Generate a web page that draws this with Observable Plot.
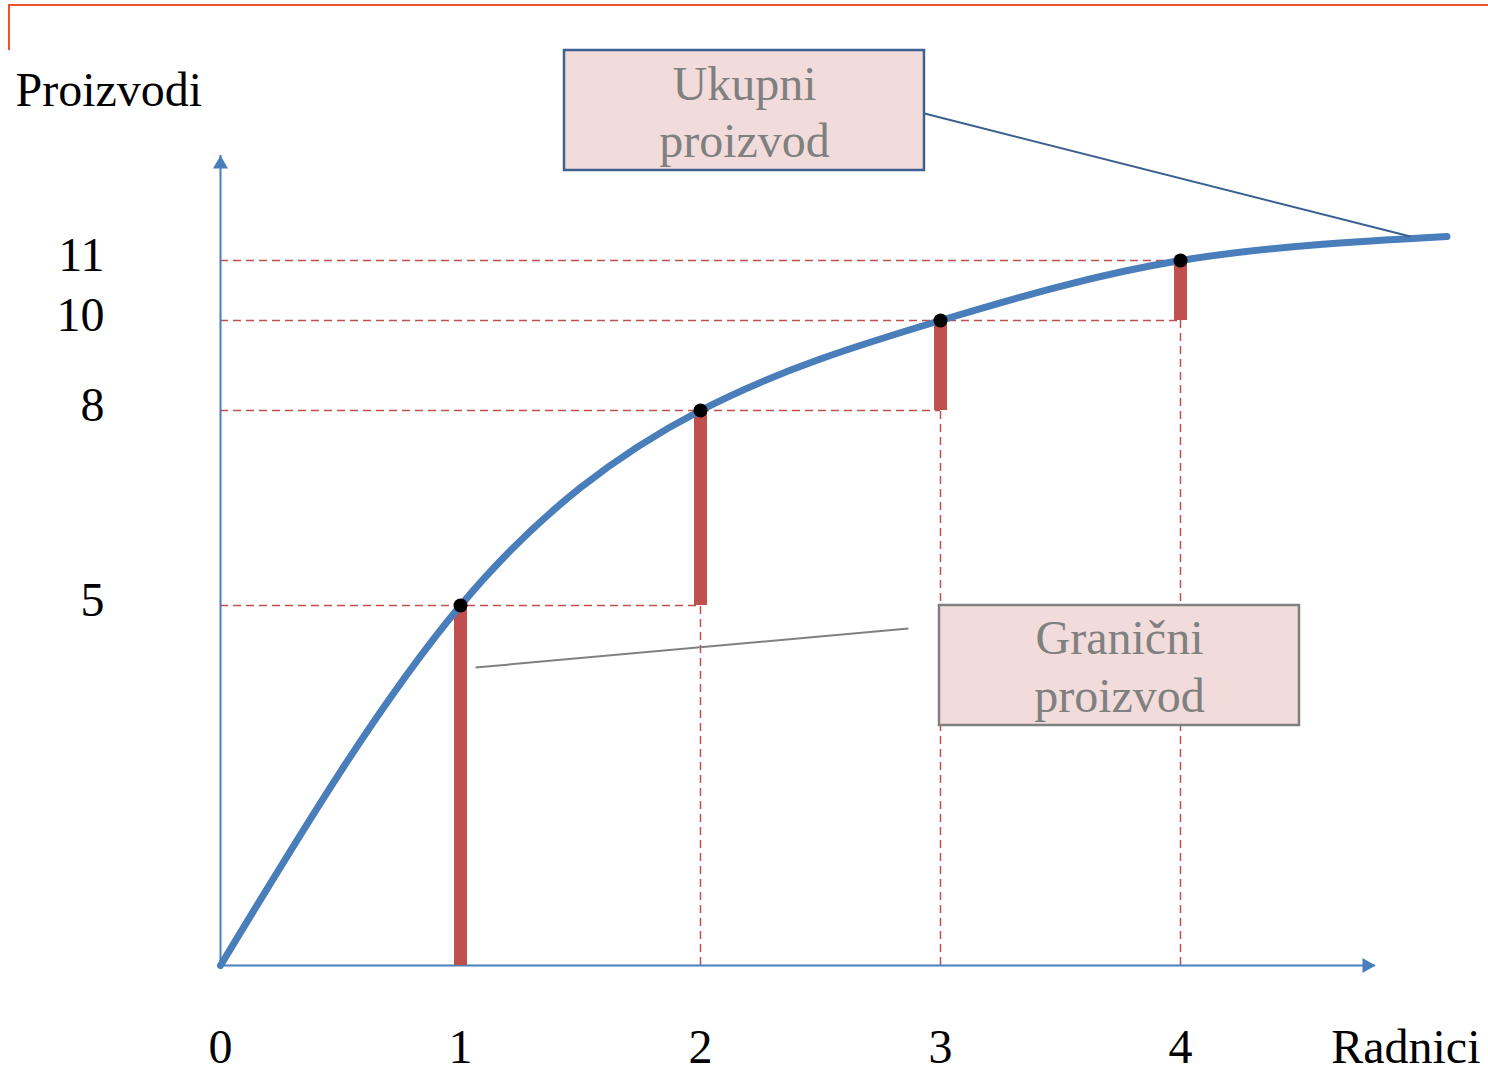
<!DOCTYPE html>
<html><head><meta charset="utf-8">
<script src="https://cdn.jsdelivr.net/npm/d3@7"></script>
<script src="https://cdn.jsdelivr.net/npm/@observablehq/plot@0.6"></script>
<style>
html,body{margin:0;padding:0;background:#fff;}
#wrap{position:relative;width:1488px;height:1073px;overflow:hidden;background:#fff;}
#wrap svg{position:absolute;left:0;top:0;}
#frame{position:absolute;left:8px;top:4px;width:1480px;height:46px;border-top:2px solid #ef5128;border-left:2px solid #ef5128;box-sizing:border-box;}
</style></head><body><div id="wrap"><div id="frame"></div></div>
<script>
// Data
const workers = [0, 1, 2, 3, 4];
const totalProduct = [0, 5, 8, 10, 11];
const curveWorkers = [0, 1, 2, 3, 4, 5.11];
const curveOutput = [0, 5, 8, 10, 11, 11.4];
const marginalProduct = [5, 3, 2, 1];
const xTickLabels = ["0", "1", "2", "3", "4"];
const yTickValues = [5, 8, 10, 11];
const xAxisTitle = "Radnici";
const yAxisTitle = "Proizvodi";
const totalLabel = "Ukupni\nproizvod";
const marginalLabel = "Granični\nproizvod";

// Scale layout (hand-drawn, piecewise y axis)
const yDomain = [0, 5, 8, 10, 11];
const yRange = [965, 605, 410, 320, 260];
const xAxisEnd = 4.8125, yAxisTop = 12.75;

const blue = "#4a7ebb", red = "#c0504d", grey = "#808080";
const font = "'Liberation Serif', 'Times New Roman', serif";

const curve = curveWorkers.map((w, i) => ({x: w, y: curveOutput[i]}));
const points = workers.slice(1).map((w, i) => ({x: w, y: totalProduct[i + 1]}));
const bars = workers.slice(1).map((w, i) => ({x: w, y1: totalProduct[i], y2: totalProduct[i] + marginalProduct[i]}));
const hDash = workers.slice(1).map((w, i) => ({y: totalProduct[i + 1], x2: Math.min(w + 1, 4)}));
const vDash = workers.slice(2).map((w, i) => ({x: w, y2: totalProduct[i + 1]}));
const xTicks = workers.map((w, i) => ({x: w, label: xTickLabels[i]}));

const boxes = [
  {x1: 1.4333, x2: 2.9333, y1: 12.5, y2: 14.5, stroke: "#3d6191", text: totalLabel, tx: 2.1833, ty: 13.51,
   lx1: 2.9333, ly1: 13.45, lx2: 4.958, ly2: 11.4, lstroke: "#3a5f8f"},
  {x1: 2.9958, x2: 4.4958, y1: 3.3333, y2: 5, stroke: "#808080", text: marginalLabel, tx: 3.746, ty: 4.18,
   lx1: 2.8667, ly1: 4.681, lx2: 1.0625, ly2: 4.139, lstroke: "#808080"}
];

const chart = Plot.plot({
  width: 1488,
  height: 1073,
  margin: 0,
  style: {background: "transparent", fontFamily: font, overflow: "visible"},
  x: {type: "linear", domain: [0, 4], range: [220, 1180], axis: null},
  y: {type: "linear", domain: yDomain, range: yRange, axis: null},
  marks: [
    Plot.ruleY(hDash, {y: "y", x1: 0, x2: "x2", stroke: red, strokeWidth: 1.5, strokeDasharray: "8,5"}),
    Plot.ruleX(vDash, {x: "x", y1: 0, y2: "y2", stroke: red, strokeWidth: 1.5, strokeDasharray: "8,5"}),
    Plot.ruleX([0], {x: 0, y1: 0, y2: yAxisTop, stroke: blue, strokeWidth: 2}),
    Plot.ruleY([0], {y: 0, x1: 0, x2: xAxisEnd, stroke: blue, strokeWidth: 2}),
    Plot.dot([{x: 0, y: yAxisTop}], {x: "x", y: "y", symbol: "triangle", r: 5.6, fill: blue, stroke: null, dy: 8.66}),
    Plot.dot([{x: xAxisEnd, y: 0}], {x: "x", y: "y", symbol: "triangle", r: 5.6, fill: blue, stroke: null, rotate: 90, dx: -8.66}),
    Plot.ruleX(bars, {x: "x", y1: "y1", y2: "y2", stroke: red, strokeWidth: 13}),
    Plot.line(curve, {x: "x", y: "y", curve: "natural", stroke: blue, strokeWidth: 7}),
    Plot.dot(points, {x: "x", y: "y", r: 7, fill: "black", stroke: null}),
    Plot.link(boxes, {x1: "lx1", y1: "ly1", x2: "lx2", y2: "ly2", stroke: "lstroke", strokeWidth: 2}),
    Plot.rect(boxes, {x1: "x1", x2: "x2", y1: "y1", y2: "y2", fill: "#f2dcdb", stroke: "stroke", strokeWidth: 2.5}),
    Plot.text(boxes, {x: "tx", y: "ty", text: "text", fill: grey, fontSize: 48, lineHeight: 1.2, fontFamily: font}),
    Plot.text(xTicks, {x: "x", y: 0, text: "label", dy: 82, fontSize: 48, fill: "black", fontFamily: font}),
    Plot.text(yTickValues, {x: 0, y: d => d, text: d => String(d), dx: -116, dy: -5, textAnchor: "end", fontSize: 48, fill: "black", fontFamily: font}),
    Plot.text([xAxisTitle], {x: 5.25, y: 0, text: d => d, dy: 82, textAnchor: "end", fontSize: 48, fill: "black", fontFamily: font}),
    Plot.text([yAxisTitle], {x: -0.854, y: 13.83, text: d => d, textAnchor: "start", fontSize: 48, fill: "black", fontFamily: font})
  ]
});
document.getElementById("wrap").appendChild(chart);
</script>
</body></html>
